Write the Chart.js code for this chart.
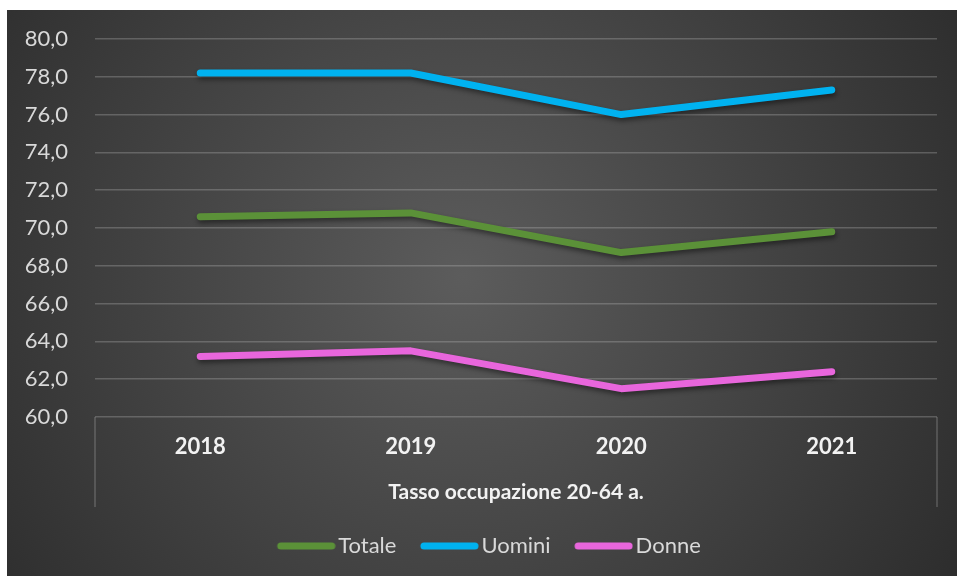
<!DOCTYPE html>
<html>
<head>
<meta charset="utf-8">
<script src="https://cdn.jsdelivr.net/npm/chart.js@4/dist/chart.umd.min.js"></script>
<style>
  html, body { margin: 0; padding: 0; background: #ffffff; }
  #wrap { position: absolute; left: 7px; top: 10px; width: 950px; height: 566px; }
</style>
</head>
<body>
<div id="wrap"><canvas id="chart" width="950" height="566"></canvas></div>
<script>
// Tasso di occupazione 20-64 anni
const years = ['2018', '2019', '2020', '2021'];
const totale = [70.6, 70.8, 68.7, 69.8];
const uomini = [78.2, 78.2, 76.0, 77.3];
const donne  = [63.2, 63.5, 61.5, 62.4];
const groupLabel = 'Tasso occupazione 20-64 a.';
const yMin = 60, yMax = 80, yStep = 2;

const colTotale = '#5b9138';
const colUomini = '#00b2f0';
const colDonne  = '#e866dc';
const gridCol = 'rgba(200,200,200,0.28)';

// legend swatch: a thick rounded stroke, placed so the text sits right after it
function swatch(color) {
  const c = document.createElement('canvas');
  c.width = 67; c.height = 10;
  const g = c.getContext('2d');
  g.strokeStyle = color;
  g.lineWidth = 7;
  g.lineCap = 'round';
  g.beginPath();
  g.moveTo(12, 5);
  g.lineTo(63, 5);
  g.stroke();
  return c;
}

const backgroundPlugin = {
  id: 'bg',
  beforeDraw(chart) {
    const { ctx, width, height } = chart;
    const grd = ctx.createRadialGradient(width * 0.48, height * 0.47, 0, width * 0.48, height * 0.47, width * 0.62);
    grd.addColorStop(0, '#5c5c5c');
    grd.addColorStop(1, '#2c2c2c');
    ctx.save();
    ctx.fillStyle = grd;
    ctx.fillRect(0, 0, width, height);
    ctx.restore();
  }
};

// category box: outer vertical separators below the axis
const frameDepth = 90;
const categoryFrame = {
  id: 'categoryFrame',
  afterDraw(chart) {
    const { ctx, chartArea } = chart;
    ctx.save();
    ctx.strokeStyle = gridCol;
    ctx.lineWidth = 1.5;
    ctx.beginPath();
    ctx.moveTo(chartArea.left, chartArea.bottom);
    ctx.lineTo(chartArea.left, chartArea.bottom + frameDepth);
    ctx.moveTo(chartArea.right, chartArea.bottom);
    ctx.lineTo(chartArea.right, chartArea.bottom + frameDepth);
    ctx.stroke();
    ctx.restore();
  }
};

// nudge the legend block horizontally
const legendShift = {
  id: 'legendShift',
  afterLayout(chart) {
    const lg = chart.legend;
    if (!lg) return;
    const dx = 17;
    lg.left += dx;
    lg.right += dx;
  }
};

const lineShadow = {
  id: 'lineShadow',
  beforeDatasetDraw(chart) {
    const ctx = chart.ctx;
    ctx.save();
    ctx.shadowColor = 'rgba(0,0,0,0.45)';
    ctx.shadowBlur = 5;
    ctx.shadowOffsetX = 1;
    ctx.shadowOffsetY = 3;
  },
  afterDatasetDraw(chart) {
    chart.ctx.restore();
  }
};

function series(label, data, color) {
  return {
    label, data,
    borderColor: color,
    backgroundColor: color,
    borderWidth: 7,
    borderCapStyle: 'round',
    borderJoinStyle: 'round',
    pointRadius: 0,
    pointHoverRadius: 0,
    pointStyle: swatch(color),
    tension: 0,
    fill: false
  };
}

new Chart(document.getElementById('chart'), {
  type: 'line',
  data: {
    labels: years,
    datasets: [
      series('Totale', totale, colTotale),
      series('Uomini', uomini, colUomini),
      series('Donne', donne, colDonne)
    ]
  },
  options: {
    responsive: false,
    animation: false,
    events: [],
    layout: { padding: { top: 29, right: 20, left: 0, bottom: 9 } },
    scales: {
      x: {
        offset: true,
        grid: { display: false },
        border: { display: false },
        ticks: {
          color: '#f2f2f2',
          font: { family: 'Lato', size: 22, weight: 'bold' },
          padding: 9,
          maxRotation: 0
        },
        title: {
          display: true,
          text: groupLabel,
          color: '#f2f2f2',
          font: { family: 'Lato', size: 21, weight: 'bold' },
          padding: { top: 0, bottom: 6 }
        },
        afterFit(scale) { scale.height = 94; }
      },
      y: {
        min: yMin, max: yMax,
        grid: { color: gridCol, lineWidth: 1.5, drawTicks: false },
        border: { display: false },
        ticks: {
          stepSize: yStep,
          color: '#d9d9d9',
          padding: 27,
          font: { family: 'Lato', size: 22 },
          callback: v => v.toFixed(1).replace('.', ',')
        },
        afterFit(scale) {
          scale.width = 88;
          scale.paddingTop = 0;
          scale.paddingBottom = 0;
        }
      }
    },
    plugins: {
      legend: {
        position: 'bottom',
        labels: {
          usePointStyle: true,
          pointStyleWidth: 50,
          color: '#d9d9d9',
          padding: 24,
          font: { family: 'Lato', size: 22 }
        }
      },
      tooltip: { enabled: false }
    }
  },
  plugins: [backgroundPlugin, categoryFrame, legendShift, lineShadow]
});
</script>
</body>
</html>
